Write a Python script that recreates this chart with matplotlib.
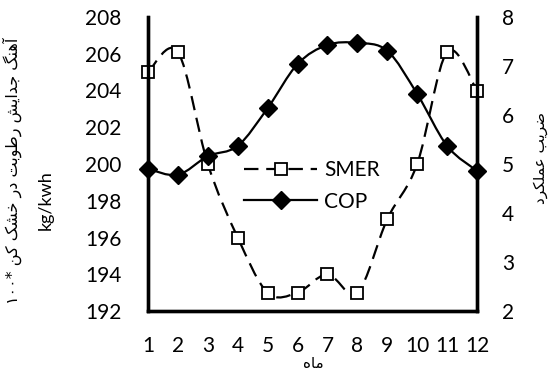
import matplotlib
matplotlib.use("Agg")
import matplotlib.pyplot as plt
from matplotlib.path import Path
from matplotlib.patches import PathPatch
from matplotlib.lines import Line2D
import numpy as np

months = [1, 2, 3, 4, 5, 6, 7, 8, 9, 10, 11, 12]
smer = [205.0, 206.1, 200.0, 196.0, 193.0, 193.0, 194.0, 193.0, 197.0, 200.0, 206.1, 204.0]
cop = [4.9, 4.78, 5.16, 5.37, 6.14, 7.04, 7.43, 7.47, 7.31, 6.43, 5.37, 4.86]
left_ticks = [192, 194, 196, 198, 200, 202, 204, 206, 208]
right_ticks = [2, 3, 4, 5, 6, 7, 8]

# --- minimal Persian shaping (presentation forms, visual order) ---
FORMS = {
    'آ': ('\uFE81', '\uFE82'),
    'ا': ('\uFE8D', '\uFE8E'),
    'ب': ('\uFE8F', '\uFE90', '\uFE91', '\uFE92'),
    'ت': ('\uFE95', '\uFE96', '\uFE97', '\uFE98'),
    'ج': ('\uFE9D', '\uFE9E', '\uFE9F', '\uFEA0'),
    'خ': ('\uFEA5', '\uFEA6', '\uFEA7', '\uFEA8'),
    'د': ('\uFEA9', '\uFEAA'),
    'ر': ('\uFEAD', '\uFEAE'),
    'ش': ('\uFEB5', '\uFEB6', '\uFEB7', '\uFEB8'),
    'ض': ('\uFEBD', '\uFEBE', '\uFEBF', '\uFEC0'),
    'ط': ('\uFEC1', '\uFEC2', '\uFEC3', '\uFEC4'),
    'ع': ('\uFEC9', '\uFECA', '\uFECB', '\uFECC'),
    'ل': ('\uFEDD', '\uFEDE', '\uFEDF', '\uFEE0'),
    'م': ('\uFEE1', '\uFEE2', '\uFEE3', '\uFEE4'),
    'ن': ('\uFEE5', '\uFEE6', '\uFEE7', '\uFEE8'),
    'ه': ('\uFEE9', '\uFEEA', '\uFEEB', '\uFEEC'),
    'و': ('\uFEED', '\uFEEE'),
    'ی': ('\uFBFC', '\uFBFD', '\uFBFE', '\uFBFF'),
    'ک': ('\uFB8E', '\uFB8F', '\uFB90', '\uFB91'),
    'گ': ('\uFB92', '\uFB93', '\uFB94', '\uFB95'),
}


def shape_word(w):
    out = []
    for i, c in enumerate(w):
        if c not in FORMS:
            out.append(c)
            continue
        prev = w[i - 1] if i > 0 else None
        nxt = w[i + 1] if i < len(w) - 1 else None
        jp = prev is not None and prev in FORMS and len(FORMS[prev]) == 4
        jn = nxt is not None and nxt in FORMS and len(FORMS[c]) == 4
        f = FORMS[c]
        if jp and jn:
            out.append(f[3])
        elif jp:
            out.append(f[1])
        elif jn:
            out.append(f[2])
        else:
            out.append(f[0])
    return ''.join(reversed(out))


def fa(text):
    return ' '.join(shape_word(w) for w in reversed(text.split()))


ylabel_left_fa = '۱۰۰* ' + fa('آهنگ جدایش رطوبت در خشک کن')
ylabel_left_unit = 'kg/kwh'
ylabel_right = fa('ضریب عملکرد')
xlabel = fa('ماه')

FONT = ['Lato', 'DejaVu Sans']
plt.rcParams['font.family'] = FONT


def smooth_path(x, y):
    x = np.asarray(x, float)
    y = np.asarray(y, float)
    n = len(x)
    verts = [(x[0], y[0])]
    codes = [Path.MOVETO]
    for i in range(n - 1):
        i0 = max(i - 1, 0)
        i3 = min(i + 2, n - 1)
        c1 = (x[i] + (x[i + 1] - x[i0]) / 6, y[i] + (y[i + 1] - y[i0]) / 6)
        c2 = (x[i + 1] - (x[i3] - x[i]) / 6, y[i + 1] - (y[i3] - y[i]) / 6)
        verts += [c1, c2, (x[i + 1], y[i + 1])]
        codes += [Path.CURVE4] * 3
    return Path(verts, codes)


W, H = 550, 380
fig = plt.figure(figsize=(5.5, 3.8), dpi=100)
ax = fig.add_axes([148 / W, 1 - 311 / H, (477 - 148) / W, (311 - 17) / H])
ax2 = ax.twinx()

lw = 1.6
dash = (0, (6.5, 3.5))

ax.add_patch(PathPatch(smooth_path(months, smer), fill=False, edgecolor='black',
                       lw=lw, linestyle=dash, zorder=2))
ax.plot(months, smer, linestyle='none', marker='s', markersize=8.5,
        markerfacecolor='white', markeredgecolor='black', markeredgewidth=1.3, zorder=3,
        clip_on=False)

ax2.add_patch(PathPatch(smooth_path(months, cop), fill=False, edgecolor='black',
                        lw=lw, zorder=2))
ax2.plot(months, cop, linestyle='none', marker='D', markersize=9.5,
         markerfacecolor='black', markeredgecolor='black', zorder=3, clip_on=False)

ax.set_xlim(1, 12)
ax.set_ylim(192, 208)
ax2.set_ylim(2, 8)
ax.set_xticks(months)
ax.set_xticklabels([str(m) for m in months])
ax.set_yticks(left_ticks)
ax2.set_yticks(right_ticks)

for a in (ax, ax2):
    a.spines['top'].set_visible(False)
    for s in ('left', 'right', 'bottom'):
        a.spines[s].set_linewidth(2.4)
        a.spines[s].set_color('black')
    a.tick_params(length=0, labelsize=15)
ax.tick_params(axis='x', pad=18)
ax.tick_params(axis='y', pad=19)
ax2.tick_params(axis='y', pad=18)

fig.text(12 / W, 1 - 171 / H, ylabel_left_fa, fontsize=11.5, family=['DejaVu Sans'],
         rotation=90, ha='center', va='center')
fig.text(46 / W, 1 - 200 / H, ylabel_left_unit, fontsize=13, rotation=90,
         ha='center', va='center')
fig.text(541 / W, 1 - 158 / H, ylabel_right, fontsize=11, family=['DejaVu Sans'],
         rotation=90, ha='center', va='center')
fig.text(313 / W, 1 - 364 / H, xlabel, fontsize=11, family=['DejaVu Sans'],
         ha='center', va='center')

h1 = Line2D([], [], color='black', lw=lw, linestyle=dash, marker='s', markersize=8,
            markerfacecolor='white', markeredgecolor='black', markeredgewidth=1.3)
h2 = Line2D([], [], color='black', lw=lw, marker='D', markersize=9,
            markerfacecolor='black')
fig.legend([h1, h2], ['SMER', 'COP'], loc='center', bbox_to_anchor=(312 / W, 1 - 186 / H),
           frameon=False, fontsize=15, handlelength=3.5, numpoints=1, labelspacing=0.55,
           handletextpad=0.35, borderpad=0, borderaxespad=0)

fig.savefig('out.png', dpi=100)
